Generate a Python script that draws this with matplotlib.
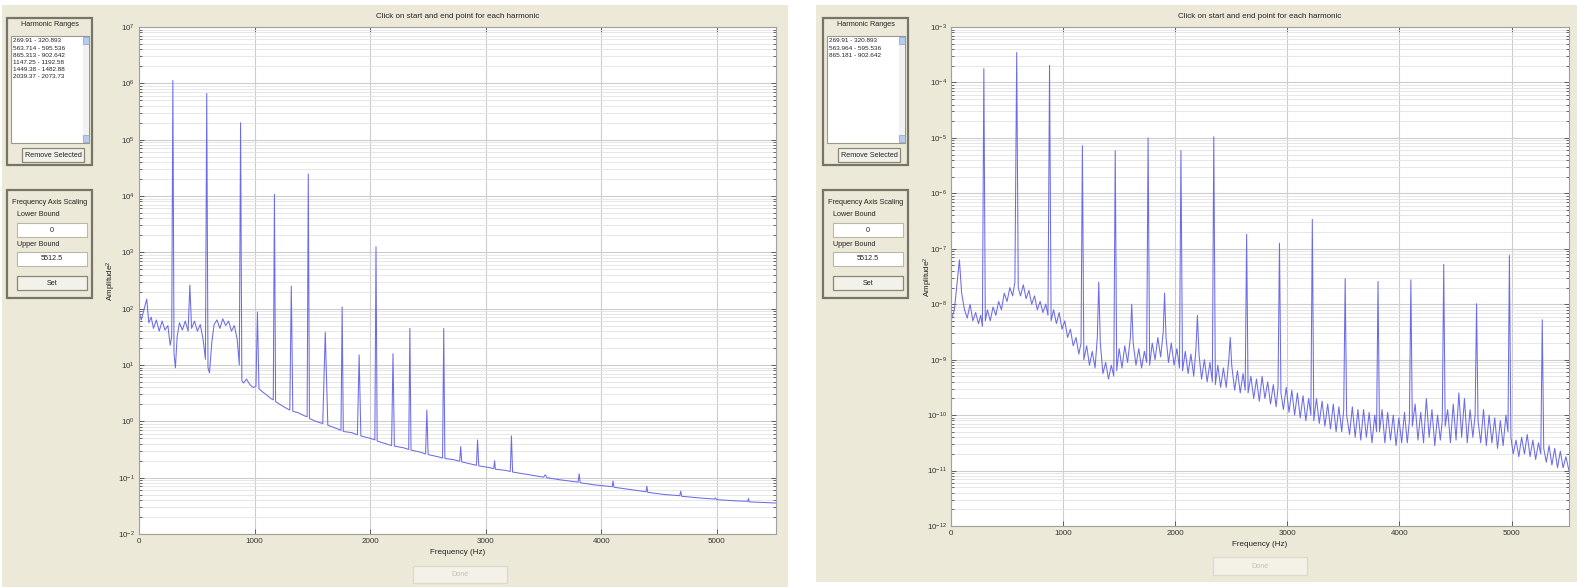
import matplotlib
matplotlib.use('Agg')
import matplotlib.pyplot as plt
import numpy as np
from matplotlib.patches import Rectangle
from matplotlib.ticker import FixedLocator, NullFormatter, LogFormatterMathtext

plt.rcParams['font.family'] = ['Liberation Sans', 'DejaVu Sans']
plt.rcParams['mathtext.default'] = 'regular'

# ---------------- data (frequency in Hz, log10 of amplitude^2) ----------------
left_freq = [0, 20, 45, 67, 85, 105, 125, 150, 175, 200, 225, 250, 270, 283, 293, 303, 315, 330,
             350, 375, 400, 425, 440, 455, 480, 505, 530, 555, 575, 586, 597, 610, 630, 650, 675,
             700, 725, 750, 775, 800, 825, 850, 868, 879, 890, 905, 930, 960, 990, 1012, 1025,
             1038, 1070, 1110, 1145, 1162, 1172, 1182, 1220, 1260, 1305, 1318, 1331, 1380, 1430,
             1455, 1465, 1475, 1530, 1590, 1612, 1634, 1700, 1748, 1758, 1768, 1840, 1890, 1905,
             1920, 2000, 2041, 2051, 2061, 2140, 2186, 2198, 2210, 2290, 2334, 2344, 2354, 2440,
             2480, 2491, 2502, 2590, 2627, 2637, 2647, 2720, 2775, 2784, 2793, 2880, 2920, 2930,
             2940, 3030, 3070, 3077, 3084, 3170, 3213, 3223, 3233, 3350, 3500, 3516, 3530, 3650,
             3800, 3809, 3818, 3950, 4095, 4102, 4110, 4250, 4388, 4395, 4402, 4550, 4680, 4688,
             4696, 4850, 4981, 4988, 5000, 5150, 5268, 5274, 5280, 5400, 5512]
left_log = [1.95, 1.8, 2.0, 2.17, 1.75, 1.85, 1.65, 1.8, 1.6, 1.78, 1.62, 1.7, 1.35, 1.5, 6.05, 1.2,
            0.95, 1.5, 1.75, 1.62, 1.78, 1.6, 2.42, 1.65, 1.78, 1.6, 1.72, 1.45, 1.1, 5.82, 0.95,
            0.86, 1.4, 1.72, 1.8, 1.65, 1.82, 1.7, 1.78, 1.6, 1.7, 1.45, 1.0, 5.30, 0.72, 0.68,
            0.75, 0.65, 0.6, 0.62, 1.94, 0.58, 0.52, 0.46, 0.4, 0.38, 4.03, 0.35, 0.3, 0.25, 0.2,
            2.4, 0.18, 0.15, 0.1, 0.08, 4.39, 0.05, 0.0, -0.04, 1.58, -0.07, -0.12, -0.16, 2.03,
            -0.18, -0.2, -0.24, 1.18, -0.26, -0.3, -0.33, 3.10, -0.35, -0.4, -0.43, 1.2, -0.44,
            -0.47, -0.5, 1.65, -0.51, -0.55, -0.58, 0.2, -0.59, -0.63, -0.65, 1.65, -0.66, -0.68,
            -0.71, -0.45, -0.72, -0.76, -0.78, -0.33, -0.79, -0.82, -0.84, -0.7, -0.85, -0.87,
            -0.89, -0.26, -0.9, -0.94, -0.99, -0.95, -1.0, -1.04, -1.08, -0.93, -1.09, -1.13,
            -1.16, -1.06, -1.17, -1.21, -1.25, -1.15, -1.26, -1.3, -1.32, -1.24, -1.33, -1.36,
            -1.38, -1.36, -1.39, -1.41, -1.42, -1.37, -1.43, -1.44, -1.45]

right_freq = [0, 30, 55, 75, 95, 120, 145, 170, 195, 220, 245, 265, 280, 293, 306, 325, 350, 375,
              400, 425, 450, 475, 500, 525, 550, 570, 586, 600, 620, 645, 670, 695, 720, 745, 770,
              795, 820, 845, 865, 879, 893, 915, 940, 965, 990, 1015, 1040, 1065, 1090, 1115, 1140,
              1160, 1172, 1185, 1210, 1235, 1260, 1285, 1305, 1318, 1332, 1355, 1380, 1405, 1430,
              1452, 1465, 1478, 1500, 1525, 1550, 1575, 1600, 1612, 1625, 1650, 1675, 1700, 1725,
              1745, 1758, 1772, 1795, 1820, 1845, 1870, 1893, 1905, 1918, 1940, 1965, 1990, 2015,
              2038, 2051, 2065, 2090, 2115, 2140, 2165, 2185, 2198, 2212, 2235, 2260, 2285, 2310,
              2331, 2344, 2358, 2380, 2405, 2430, 2455, 2478, 2491, 2504, 2530, 2555, 2580, 2605,
              2624, 2637, 2650, 2675, 2700, 2725, 2750, 2775, 2800, 2825, 2850, 2875, 2900, 2917,
              2930, 2943, 2965, 2990, 3015, 3040, 3065, 3090, 3115, 3140, 3165, 3190, 3210, 3223,
              3236, 3260, 3285, 3310, 3335, 3360, 3385, 3410, 3435, 3460, 3485, 3503, 3516, 3529,
              3555, 3580, 3605, 3630, 3655, 3680, 3705, 3730, 3755, 3780, 3796, 3809, 3822, 3845,
              3870, 3895, 3920, 3945, 3970, 3995, 4020, 4045, 4070, 4089, 4102, 4115, 4140, 4165,
              4190, 4215, 4240, 4265, 4290, 4315, 4340, 4365, 4382, 4395, 4408, 4430, 4455, 4480,
              4505, 4530, 4555, 4580, 4605, 4630, 4655, 4675, 4688, 4701, 4725, 4750, 4775, 4800,
              4825, 4850, 4875, 4900, 4925, 4950, 4968, 4981, 4994, 5015, 5040, 5065, 5090, 5115,
              5140, 5165, 5190, 5215, 5240, 5261, 5274, 5287, 5310, 5335, 5360, 5385, 5410, 5435,
              5460, 5485, 5512]
right_log = [-8.3, -8.1, -7.6, -7.2, -7.8, -8.1, -8.25, -8.0, -8.3, -8.15, -8.35, -8.2, -8.4, -3.75,
             -8.3, -8.1, -8.3, -8.05, -8.2, -7.95, -8.1, -7.8, -7.95, -7.7, -7.85, -7.6, -3.46, -7.7,
             -7.85, -7.65, -7.9, -7.75, -8.0, -7.85, -8.1, -7.95, -8.15, -8.0, -8.2, -3.69, -8.3,
             -8.1, -8.35, -8.15, -8.45, -8.3, -8.6, -8.45, -8.75, -8.6, -8.9, -8.7, -5.14, -9.0,
             -8.75, -9.1, -8.85, -9.15, -8.6, -7.6, -8.7, -9.25, -9.05, -9.35, -9.1, -9.3, -5.23,
             -9.2, -8.8, -9.15, -8.75, -9.05, -8.6, -8.0, -8.7, -9.1, -8.8, -9.15, -8.85, -9.05,
             -5.00, -9.1, -8.7, -9.0, -8.6, -8.95, -8.5, -7.8, -8.6, -9.05, -8.7, -9.1, -8.8, -9.15,
             -5.23, -9.2, -8.85, -9.25, -8.9, -9.3, -8.8, -8.2, -8.9, -9.35, -9.0, -9.4, -9.05, -9.4,
             -4.98, -9.45, -9.1, -9.5, -9.15, -9.5, -9.0, -8.6, -9.1, -9.55, -9.2, -9.6, -9.25,
             -9.55, -6.74, -9.6, -9.3, -9.7, -9.35, -9.75, -9.3, -9.7, -9.4, -9.8, -9.45, -9.85,
             -9.5, -6.90, -9.6, -9.9, -9.5, -9.95, -9.55, -10.0, -9.6, -10.05, -9.65, -10.1, -9.7,
             -10.0, -6.47, -10.1, -9.7, -10.15, -9.75, -10.2, -9.8, -10.25, -9.8, -10.3, -9.85,
             -10.3, -9.9, -7.54, -10.0, -10.35, -9.85, -10.4, -9.9, -10.45, -9.9, -10.4, -9.95,
             -10.5, -10.0, -10.3, -7.59, -10.3, -9.9, -10.5, -9.95, -10.45, -10.0, -10.55, -10.05,
             -10.5, -9.95, -10.5, -10.1, -7.56, -10.2, -9.8, -10.45, -9.95, -10.5, -9.7, -10.4,
             -9.9, -10.55, -10.0, -10.45, -10.1, -7.28, -10.2, -9.9, -10.5, -9.8, -10.45, -9.6,
             -10.4, -9.7, -10.5, -9.9, -10.4, -10.0, -7.99, -10.1, -10.5, -9.9, -10.55, -10.0,
             -10.5, -10.05, -10.6, -10.1, -10.55, -10.0, -10.3, -7.12, -10.4, -10.7, -10.45, -10.75,
             -10.4, -10.7, -10.35, -10.75, -10.45, -10.8, -10.5, -10.7, -8.28, -10.6, -10.85,
             -10.55, -10.9, -10.6, -10.95, -10.65, -10.95, -10.75, -11.0]

left_ranges = ['269.91 - 320.893', '563.714 - 595.536', '865.313 - 902.642',
               '1147.25 - 1192.58', '1449.38 - 1482.88', '2039.37 - 2073.73']
right_ranges = ['269.91 - 320.893', '563.964 - 595.536', '865.181 - 902.642']
xticks_hz = [0, 1000, 2000, 3000, 4000, 5000]
lower_bound = '0'
upper_bound = '5512.5'
fmax = 5512.5

# ---------------- figure ----------------
W, H = 1577, 587
fig = plt.figure(figsize=(W / 100, H / 100), dpi=100, facecolor='white')
bg = fig.add_axes([0, 0, 1, 1], zorder=0)
bg.set_xlim(0, W)
bg.set_ylim(H, 0)
bg.axis('off')

BEIGE = '#ece9d8'
GRAYTXT = '#222222'


def rect(x0, y0, x1, y1, fc, ec='none', lw=1.0, z=1):
    bg.add_patch(Rectangle((x0, y0), x1 - x0, y1 - y0, facecolor=fc, edgecolor=ec,
                           linewidth=lw, zorder=z))


def button(x0, y0, x1, y1, label, enabled=True):
    rect(x0, y0, x1, y1, '#f3f2ea' if enabled else '#f4f2e8',
         '#8a8878' if enabled else '#dcd9c8', 0.9, 3)
    bg.text((x0 + x1) / 2, (y0 + y1) / 2 + 0.5, label, fontsize=5.2,
            color=GRAYTXT if enabled else '#c4c1b0', ha='center', va='center', zorder=4)


def gui(ox, ranges):
    # Harmonic Ranges group
    rect(ox + 7, 18, ox + 92, 165, 'none', '#77756a', 1.6, 2)
    bg.text(ox + 50, 25, 'Harmonic Ranges', fontsize=5.2, ha='center', va='center',
            color=GRAYTXT, zorder=4)
    rect(ox + 11, 36, ox + 89, 143, 'white', '#9a988c', 0.8, 3)
    rect(ox + 83, 37, ox + 89, 142, '#f3f2ee', 'none', 0.5, 3)
    rect(ox + 83, 37, ox + 89, 44, '#b8ccf0', '#7f9ddb', 0.5, 4)
    rect(ox + 83, 135, ox + 89, 142, '#b8ccf0', '#7f9ddb', 0.5, 4)
    for i, r in enumerate(ranges):
        bg.text(ox + 13, 41 + i * 7.2, r, fontsize=4.6, ha='left', va='center',
                color=GRAYTXT, zorder=4)
    button(ox + 22, 148, ox + 84, 162, 'Remove Selected')
    # Frequency Axis Scaling group
    rect(ox + 7, 190, ox + 92, 298, 'none', '#77756a', 1.6, 2)
    bg.text(ox + 50, 202, 'Frequency Axis Scaling', fontsize=5.2, ha='center',
            va='center', color=GRAYTXT, zorder=4)
    bg.text(ox + 17, 215, 'Lower Bound', fontsize=5.2, ha='left', va='center',
            color=GRAYTXT, zorder=4)
    rect(ox + 17, 223, ox + 87, 237, 'white', '#b9b7aa', 0.8, 3)
    bg.text(ox + 52, 230, lower_bound, fontsize=5.2, ha='center', va='center',
            color=GRAYTXT, zorder=4)
    bg.text(ox + 17, 245, 'Upper Bound', fontsize=5.2, ha='left', va='center',
            color=GRAYTXT, zorder=4)
    rect(ox + 17, 252, ox + 87, 266, 'white', '#b9b7aa', 0.8, 3)
    bg.text(ox + 52, 259, upper_bound, fontsize=5.2, ha='center', va='center',
            color=GRAYTXT, zorder=4)
    button(ox + 17, 276, ox + 87, 290, 'Set')


# windows
rect(2, 5, 788, 587, BEIGE, z=0.5)
rect(816, 5, 1577, 582, BEIGE, z=0.5)
gui(0, left_ranges)
gui(816, right_ranges)
button(413, 566, 507, 583, 'Done', enabled=False)
button(1213, 557, 1307, 575, 'Done', enabled=False)


def spectrum_axes(x0, y0, x1, y1, freq, logv, ydec, ylab_x, xlab_y):
    ax = fig.add_axes([x0 / W, 1 - y1 / H, (x1 - x0) / W, (y1 - y0) / H], zorder=2)
    ax.set_facecolor('white')
    ax.set_yscale('log')
    amp = [10.0 ** v for v in logv]
    ax.set_xlim(0, fmax)
    ax.set_ylim(10.0 ** ydec[0], 10.0 ** ydec[1])
    decades = list(range(ydec[0], ydec[1] + 1))
    ax.yaxis.set_major_locator(FixedLocator([10.0 ** d for d in decades]))
    ax.yaxis.set_major_formatter(LogFormatterMathtext())
    ax.yaxis.set_minor_locator(FixedLocator([m * 10.0 ** d for d in decades[:-1]
                                             for m in range(2, 10)]))
    ax.yaxis.set_minor_formatter(NullFormatter())
    ax.set_xticks(xticks_hz)
    ax.set_xticklabels([str(t) for t in xticks_hz])
    ax.grid(True, which='major', color='#cdcdcd', linewidth=0.8)
    ax.grid(True, which='minor', axis='y', color='#e3e3e3', linewidth=0.6)
    ax.set_axisbelow(True)
    ax.plot(freq, amp, color='#6c6ce8', linewidth=0.75)
    ax.tick_params(which='both', direction='in', top=True, right=True, labelsize=5.8,
                   colors='#333333', width=0.5)
    ax.tick_params(which='major', length=3.5, pad=3)
    ax.tick_params(which='minor', length=2)
    for s in ax.spines.values():
        s.set_color('#a0a0a0')
        s.set_linewidth(0.8)
    ax.set_title('Click on start and end point for each harmonic', fontsize=5.8,
                 color=GRAYTXT, y=1 + 10.0 / (y1 - y0), pad=0, va='center')
    ax.set_xlabel('Frequency (Hz)', fontsize=5.8, color=GRAYTXT)
    ax.xaxis.set_label_coords(0.5, -(xlab_y - y1) / (y1 - y0))
    ax.xaxis.label.set_va('center')
    ax.set_ylabel('Amplitude$^2$', fontsize=5.8, color=GRAYTXT)
    ax.yaxis.set_label_coords(-(x0 - ylab_x) / (x1 - x0), 0.5)
    ax.yaxis.label.set_va('center')
    return ax


spectrum_axes(139, 27, 776, 534, left_freq, left_log, (-2, 7), 111, 553)
spectrum_axes(951, 27, 1569, 526, right_freq, right_log, (-12, -3), 928, 545)

fig.savefig('out.png', dpi=100, facecolor='white')
